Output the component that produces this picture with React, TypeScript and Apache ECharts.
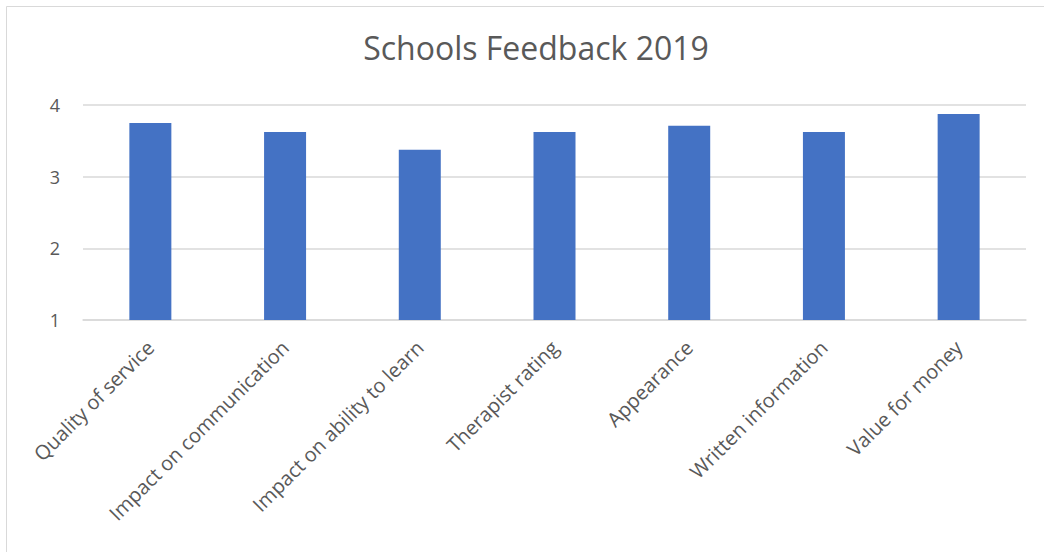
import React, { useEffect, useRef } from "react";
import * as echarts from "echarts";

const categories = [
  "Quality of service",
  "Impact on communication",
  "Impact on ability to learn",
  "Therapist rating",
  "Appearance",
  "Written information",
  "Value for money",
];
const values = [3.75, 3.625, 3.375, 3.625, 3.71, 3.625, 3.875];
const yMin = 1;
const yMax = 4;
const yInterval = 1;
const titleText = "Schools Feedback 2019";

export default function App() {
  const ref = useRef<HTMLDivElement>(null);
  useEffect(() => {
    if (!ref.current) return;
    const chart = echarts.init(ref.current, undefined, { renderer: "svg" });
    const font = "'Open Sans', 'Noto Sans', sans-serif";
    chart.setOption({
      animation: false,
      backgroundColor: "#ffffff",
      title: {
        text: titleText,
        left: 531,
        textAlign: "center",
        top: 26,
        textStyle: { fontFamily: font, fontSize: 32, fontWeight: "normal", color: "#595959" },
      },
      graphic: [
        {
          type: "rect",
          shape: { x: 6.5, y: 6.5, width: 1060, height: 560 },
          style: { fill: "none", stroke: "#d9d9d9", lineWidth: 1 },
          silent: true,
        },
      ],
      grid: { left: 83, right: 18, top: 105, bottom: 232, containLabel: false },
      xAxis: {
        type: "category",
        data: categories,
        axisLine: { show: true, lineStyle: { color: "#d9d9d9", width: 1.5 } },
        axisTick: { show: false },
        axisLabel: {
          rotate: 45,
          interval: 0,
          margin: 24,
          fontFamily: font,
          fontSize: 20,
          color: "#595959",
        },
      },
      yAxis: {
        type: "value",
        min: yMin,
        max: yMax,
        interval: yInterval,
        axisLine: { show: false },
        axisTick: { show: false },
        splitLine: { lineStyle: { color: "#d9d9d9", width: 1.5 } },
        axisLabel: { margin: 23, fontFamily: font, fontSize: 18, color: "#595959" },
      },
      series: [
        {
          type: "bar",
          data: values,
          barWidth: 42,
          itemStyle: { color: "#4472C4" },
        },
      ],
    });
    return () => chart.dispose();
  }, []);
  return (
    <div
      ref={ref}
      style={{ position: "fixed", left: 0, top: 0, width: 1044, height: 552 }}
    />
  );
}
